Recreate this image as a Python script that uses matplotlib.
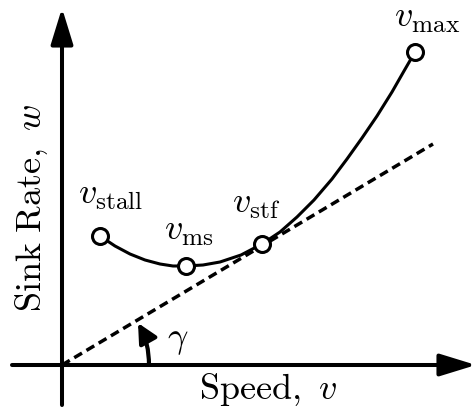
import matplotlib
matplotlib.use('Agg')
import matplotlib.pyplot as plt
from matplotlib.patches import FancyArrowPatch

plt.rcParams['mathtext.fontset'] = 'cm'

# glider polar (arbitrary units)
polar_v = [38, 53, 68, 83, 98, 111, 124, 141, 158, 179, 200, 218, 235, 252, 270,
           285, 300, 315, 330, 342, 353]
polar_w = [129, 119, 111, 105, 101, 99, 99, 100, 103, 110, 121, 133, 148, 165, 186,
           206, 227, 249, 273, 294, 313]

# marked points
pt_names = [r'$v_{\mathrm{stall}}$', r'$v_{\mathrm{ms}}$', r'$v_{\mathrm{stf}}$', r'$v_{\mathrm{max}}$']
pt_v = [38, 124, 200, 353]
pt_w = [129, 99, 121, 313]
lab_v = [49, 127, 194, 365]
lab_w = [161, 125, 152, 338]

# tangent from origin
tan_v = [0, 371]
tan_w = [0, 221]

fig = plt.figure(figsize=(4.76, 4.12), dpi=100)
ax = fig.add_axes([0, 0, 1, 1])
ax.set_xlim(-62, 414)
ax.set_ylim(-47, 365)
ax.axis('off')

arrow = dict(arrowstyle='-|>,head_length=1.3,head_width=0.4', color='black',
             lw=2.9, shrinkA=0, shrinkB=0, mutation_scale=17)
ax.annotate('', xy=(414, 0), xytext=(-50, 0), arrowprops=arrow)
ax.annotate('', xy=(0, 357), xytext=(0, -40), arrowprops=arrow)

ax.plot(tan_v, tan_w, color='black', lw=2.5, ls=(0, (2.6, 1.5)), zorder=2)
ax.plot(polar_v, polar_w, color='black', lw=2.2, zorder=3)
ax.plot(pt_v, pt_w, 'o', ms=11.5, mfc='white', mec='black', mew=2.2, zorder=4)

for name, x, y in zip(pt_names, lab_v, lab_w):
    ax.text(x, y, name, fontsize=26, ha='center', va='baseline')

# angle gamma
arc = FancyArrowPatch((87, 0), (76, 42), connectionstyle='arc3,rad=0.13',
                      arrowstyle='-|>,head_length=0.9,head_width=0.45',
                      mutation_scale=13, color='black', lw=3, shrinkA=0, shrinkB=0)
ax.add_patch(arc)
ax.text(116, 25, r'$\gamma$', fontsize=26, ha='center', va='center')

ax.text(206, -25, r'$\mathrm{Speed,}\ v$', fontsize=26, ha='center', va='center')
ax.text(-30, 157, r'$\mathrm{Sink\ Rate,}\ w$', fontsize=26, ha='center', va='center',
        rotation=90)

plt.savefig('out.png', dpi=100)
